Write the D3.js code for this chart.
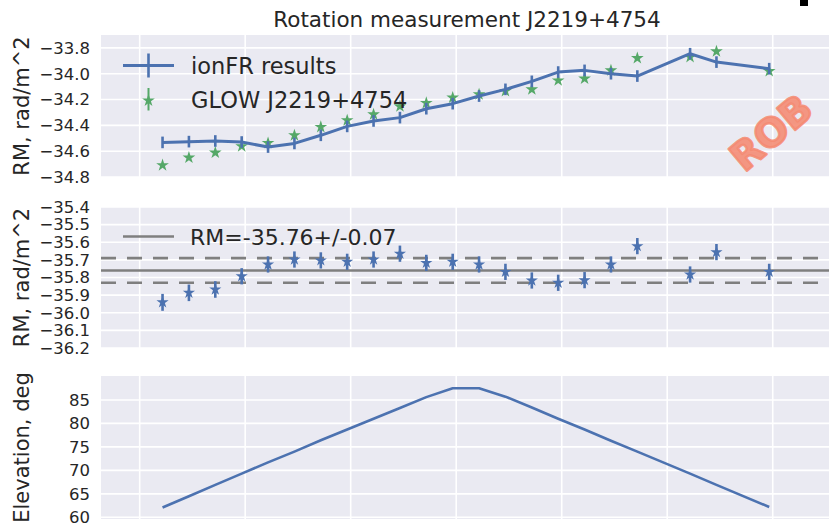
<!DOCTYPE html>
<html>
<head>
<meta charset="utf-8">
<script src="https://cdn.jsdelivr.net/npm/d3@7"></script>
<style>
  html, body { margin: 0; padding: 0; background: #fff; }
  svg { display: block; font-family: "DejaVu Sans", sans-serif; }
</style>
</head>
<body>
<svg id="chart" width="829" height="524"></svg>
<script>
// Observation times, minutes from the first full hour
const times = [13, 28, 43, 58, 73, 88, 103, 118, 133, 148, 163, 178, 193, 208, 223, 238, 253, 268, 283, 313, 328, 358];
const hourTicks = [0, 60, 120, 180, 240, 300, 360];

// Top panel: ionFR prediction and GLOW measurement (rad/m^2)
const ionfrRM = [-34.532, -34.526, -34.521, -34.529, -34.568, -34.54, -34.477, -34.408, -34.366, -34.34, -34.271, -34.232, -34.173, -34.121, -34.059, -33.987, -33.974, -34.0, -34.018, -33.845, -33.91, -33.961];
const ionfrErr = [0.045, 0.045, 0.045, 0.045, 0.045, 0.045, 0.045, 0.045, 0.045, 0.045, 0.045, 0.045, 0.045, 0.045, 0.045, 0.045, 0.045, 0.045, 0.045, 0.045, 0.045, 0.045];
const glowRM = [-34.709, -34.65, -34.611, -34.562, -34.537, -34.477, -34.413, -34.361, -34.315, -34.253, -34.227, -34.185, -34.16, -34.134, -34.121, -34.052, -34.038, -33.974, -33.879, -33.871, -33.827, -33.98];
const glowErr = [0.01, 0.01, 0.01, 0.01, 0.01, 0.01, 0.01, 0.01, 0.01, 0.01, 0.01, 0.01, 0.01, 0.01, 0.01, 0.01, 0.01, 0.01, 0.01, 0.01, 0.01, 0.01];
const topTicks = [-34.8, -34.6, -34.4, -34.2, -34.0, -33.8];

// Middle panel: ionosphere-corrected RM
const corrRM = [-35.941, -35.887, -35.868, -35.793, -35.726, -35.698, -35.703, -35.711, -35.698, -35.665, -35.717, -35.711, -35.726, -35.768, -35.817, -35.83, -35.815, -35.726, -35.622, -35.783, -35.656, -35.768];
const corrErr = [0.048, 0.047, 0.047, 0.046, 0.046, 0.046, 0.046, 0.046, 0.046, 0.046, 0.046, 0.046, 0.046, 0.046, 0.046, 0.046, 0.046, 0.046, 0.046, 0.046, 0.046, 0.046];
const meanRM = -35.76;
const meanErr = 0.07;
const midTicks = [-36.2, -36.1, -36.0, -35.9, -35.8, -35.7, -35.6, -35.5, -35.4];

// Bottom panel: source elevation (deg)
const elevation = [62.1, 64.5, 66.9, 69.3, 71.7, 74.0, 76.4, 78.7, 81.0, 83.3, 85.6, 87.5, 87.5, 85.7, 83.4, 81.0, 78.7, 76.3, 74.0, 69.3, 66.9, 62.2];
const elevTicks = [60, 65, 70, 75, 80, 85];

const blue = "#4c72b0", green = "#55a868", gray = "#7f7f7f", txt = "#262626";
const svg = d3.select("#chart");

const left = 101, right = 829;
const x = d3.scaleLinear().domain([-22, 392]).range([left, right]);

const fmt = v => d3.format(".1f")(v).replace("-", "\u2212");

function panel(top, bottom, domain, ticks, tickFmt, label) {
  const y = d3.scaleLinear().domain(domain).range([bottom, top]);
  const g = svg.append("g");
  g.append("rect").attr("x", left).attr("y", top)
    .attr("width", right - left).attr("height", bottom - top).attr("fill", "#eaeaf2");
  g.selectAll(".hg").data(ticks).join("line")
    .attr("x1", left).attr("x2", right)
    .attr("y1", d => y(d)).attr("y2", d => y(d))
    .attr("stroke", "#fff").attr("stroke-width", 1.6);
  g.selectAll(".vg").data(hourTicks).join("line")
    .attr("x1", d => x(d)).attr("x2", d => x(d))
    .attr("y1", top).attr("y2", bottom)
    .attr("stroke", "#fff").attr("stroke-width", 1.6);
  const ax = d3.axisLeft(y).tickValues(ticks).tickFormat(tickFmt).tickSize(0).tickPadding(0);
  const ag = svg.append("g").attr("transform", `translate(${left - 11},0)`).call(ax);
  ag.select(".domain").remove();
  ag.selectAll("text").attr("fill", txt).style("font-size", "16.5px")
    .style("font-family", "DejaVu Sans, sans-serif");
  svg.append("text")
    .attr("transform", `translate(29,${(top + bottom) / 2}) rotate(-90)`)
    .attr("text-anchor", "middle").attr("fill", txt)
    .style("font-size", "21px").text(label);
  return { y, g };
}

function errorBars(g, xs, ys, errs, y, color, width) {
  g.selectAll(null).data(xs).join("line")
    .attr("x1", d => x(d)).attr("x2", d => x(d))
    .attr("y1", (d, i) => y(ys[i] - errs[i])).attr("y2", (d, i) => y(ys[i] + errs[i]))
    .attr("stroke", color).attr("stroke-width", width);
}

// ---- Top panel ----
const P1 = panel(35, 177, [-34.8, -33.70], topTicks, fmt, "RM, rad/m^2");
const star = d3.symbol().type(d3.symbolStar);
errorBars(P1.g, times, glowRM, glowErr, P1.y, green, 2);
P1.g.selectAll(".gs").data(times).join("path")
  .attr("d", star.size(50)())
  .attr("transform", (d, i) => `translate(${x(d)},${P1.y(glowRM[i])})`)
  .attr("fill", green);
P1.g.append("path")
  .datum(times)
  .attr("d", d3.line().x(d => x(d)).y((d, i) => P1.y(ionfrRM[i])))
  .attr("fill", "none").attr("stroke", blue).attr("stroke-width", 3)
  .attr("stroke-linejoin", "round");
errorBars(P1.g, times, ionfrRM, ionfrErr, P1.y, blue, 2.6);

// Legend (top)
const lg1 = svg.append("g");
lg1.append("line").attr("x1", 123).attr("x2", 174).attr("y1", 65.5).attr("y2", 65.5)
  .attr("stroke", blue).attr("stroke-width", 3);
lg1.append("line").attr("x1", 148.5).attr("x2", 148.5).attr("y1", 53.5).attr("y2", 77.5)
  .attr("stroke", blue).attr("stroke-width", 2.6);
lg1.append("line").attr("x1", 148.5).attr("x2", 148.5).attr("y1", 88).attr("y2", 110.5)
  .attr("stroke", green).attr("stroke-width", 2);
lg1.append("path").attr("d", star.size(50)())
  .attr("transform", "translate(148.5,100.5)").attr("fill", green);
lg1.append("text").attr("x", 191).attr("y", 73.5).attr("fill", txt)
  .style("font-size", "22.5px").text("ionFR results");
lg1.append("text").attr("x", 191).attr("y", 107.5).attr("fill", txt)
  .style("font-size", "22.5px").text("GLOW J2219+4754");

// ---- Middle panel ----
const P2 = panel(207, 348, [-36.2, -35.4], midTicks, fmt, "RM, rad/m^2");
[meanRM + meanErr, meanRM - meanErr].forEach(v => {
  P2.g.append("line").attr("x1", left).attr("x2", right)
    .attr("y1", P2.y(v)).attr("y2", P2.y(v))
    .attr("stroke", gray).attr("stroke-width", 2.6).attr("stroke-dasharray", "15,11");
});
P2.g.append("line").attr("x1", left).attr("x2", right)
  .attr("y1", P2.y(meanRM)).attr("y2", P2.y(meanRM))
  .attr("stroke", gray).attr("stroke-width", 2.6);
errorBars(P2.g, times, corrRM, corrErr, P2.y, blue, 2.6);
P2.g.selectAll(".bs").data(times).join("path")
  .attr("d", star.size(46)())
  .attr("transform", (d, i) => `translate(${x(d)},${P2.y(corrRM[i])})`)
  .attr("fill", blue);

const lg2 = svg.append("g");
lg2.append("line").attr("x1", 123).attr("x2", 174).attr("y1", 236.5).attr("y2", 236.5)
  .attr("stroke", gray).attr("stroke-width", 2.6);
lg2.append("text").attr("x", 190).attr("y", 244.5).attr("fill", txt)
  .style("font-size", "22px")
  .text(`RM=${meanRM.toFixed(2)}+/-${meanErr.toFixed(2)}`);

// ---- Bottom panel ----
const P3 = panel(376, 519, [59.64, 90.1], elevTicks, d => String(d), "Elevation, deg");
P3.g.append("path")
  .datum(times)
  .attr("d", d3.line().x(d => x(d)).y((d, i) => P3.y(elevation[i])))
  .attr("fill", "none").attr("stroke", blue).attr("stroke-width", 2.6)
  .attr("stroke-linejoin", "round");

// Title
svg.append("text").attr("x", 467).attr("y", 27).attr("text-anchor", "middle")
  .attr("fill", txt).style("font-size", "21.5px").text("Rotation measurement J2219+4754");

// Small black mark at top right
svg.append("rect").attr("x", 800).attr("y", 0).attr("width", 8).attr("height", 6).attr("fill", "#000");

// ROB watermark
svg.append("text")
  .attr("transform", "translate(773,135) rotate(-40)")
  .attr("text-anchor", "middle").attr("dominant-baseline", "middle")
  .attr("fill", "#f58a72").attr("fill-opacity", 0.88)
  .attr("stroke", "#f58a72").attr("stroke-opacity", 0.88).attr("stroke-width", 2.5)
  .attr("stroke-linejoin", "round")
  .style("font-size", "39px").style("font-weight", "bold")
  .text("ROB");
</script>
</body>
</html>
